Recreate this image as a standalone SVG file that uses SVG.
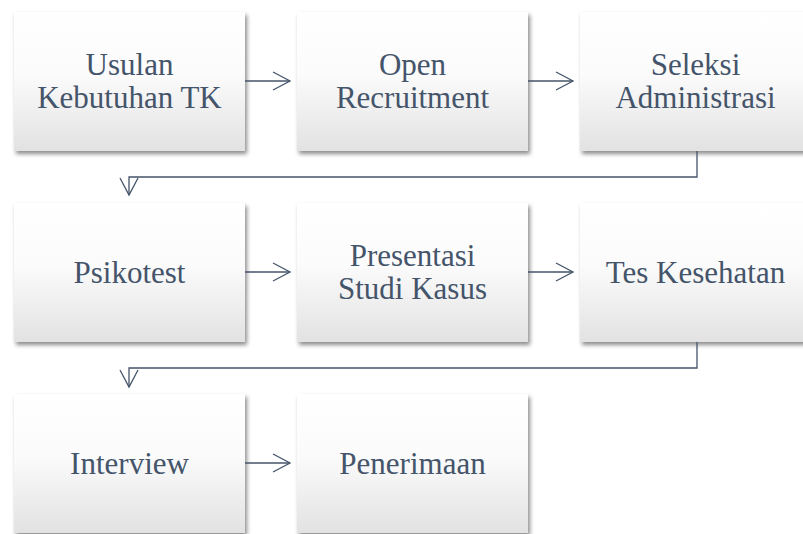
<svg xmlns="http://www.w3.org/2000/svg" width="803" height="534" viewBox="0 0 803 534">
<defs>
<linearGradient id="g" x1="0" y1="0" x2="0" y2="1">
<stop offset="0" stop-color="#ffffff"/>
<stop offset="0.45" stop-color="#fbfbfb"/>
<stop offset="1" stop-color="#e2e2e2"/>
</linearGradient>
<filter id="sh" x="-10%" y="-10%" width="125%" height="130%">
<feDropShadow dx="2" dy="3" stdDeviation="2" flood-color="#000" flood-opacity="0.45"/>
</filter>
<marker id="ah" markerWidth="20" markerHeight="20" refX="18" refY="10" orient="auto" markerUnits="userSpaceOnUse">
<path d="M1,1 L18,10 L1,19" fill="none" stroke="#44546a" stroke-width="1.3"/>
</marker>
</defs>
<style>
.box{fill:url(#g);filter:url(#sh);}
.t{font-family:"Liberation Serif","Times New Roman",serif;font-size:31px;fill:#44546a;text-anchor:middle;}
.c{fill:none;stroke:#44546a;stroke-width:1.3;marker-end:url(#ah);}
</style>
<rect width="803" height="534" fill="#ffffff"/>
<g id="n1"><rect class="box" x="14" y="12" width="231" height="139"/><text class="t" x="129.5" y="75">Usulan</text><text class="t" x="129.5" y="108">Kebutuhan TK</text></g>
<g id="n2"><rect class="box" x="297" y="12" width="231" height="139"/><text class="t" x="412.5" y="75">Open</text><text class="t" x="412.5" y="108">Recruitment</text></g>
<g id="n3"><rect class="box" x="580" y="12" width="231" height="139"/><text class="t" x="695.5" y="75">Seleksi</text><text class="t" x="695.5" y="108">Administrasi</text></g>
<g id="n4"><rect class="box" x="14" y="203" width="231" height="139"/><text class="t" x="129.5" y="283">Psikotest</text></g>
<g id="n5"><rect class="box" x="297" y="203" width="231" height="139"/><text class="t" x="412.5" y="266">Presentasi</text><text class="t" x="412.5" y="299">Studi Kasus</text></g>
<g id="n6"><rect class="box" x="580" y="203" width="231" height="139"/><text class="t" x="695.5" y="283">Tes Kesehatan</text></g>
<g id="n7"><rect class="box" x="14" y="394" width="231" height="139"/><text class="t" x="129.5" y="474">Interview</text></g>
<g id="n8"><rect class="box" x="297" y="394" width="231" height="139"/><text class="t" x="412.5" y="474">Penerimaan</text></g>
<g id="connectors">
<path class="c" d="M245,81 L290,81"/>
<path class="c" d="M528,81 L573,81"/>
<path class="c" d="M697,151 L697,177 L129,177 L129,195"/>
<path class="c" d="M245,272 L290,272"/>
<path class="c" d="M528,272 L573,272"/>
<path class="c" d="M697,342 L697,368 L129,368 L129,387"/>
<path class="c" d="M245,463 L290,463"/>
</g>
</svg>
